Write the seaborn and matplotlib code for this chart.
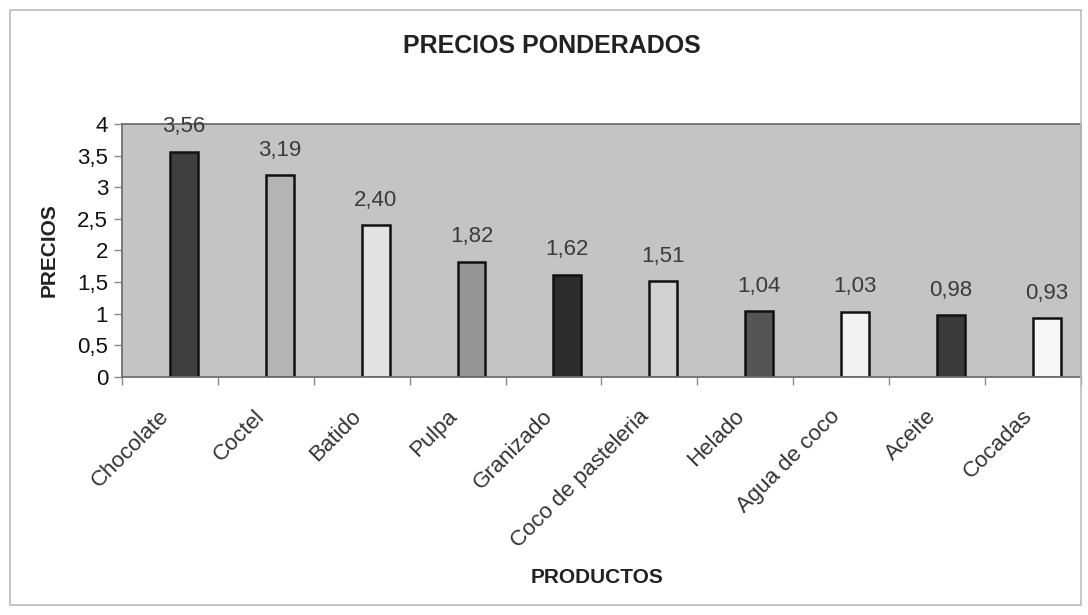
import matplotlib
matplotlib.use("Agg")
import matplotlib.pyplot as plt
from matplotlib.patches import Rectangle
import seaborn as sns
import pandas as pd
import numpy as np

productos = ["Chocolate", "Coctel", "Batido", "Pulpa", "Granizado",
             "Coco de pasteleria", "Helado", "Agua de coco", "Aceite", "Cocadas"]
precios = [3.56, 3.19, 2.40, 1.82, 1.62, 1.51, 1.04, 1.03, 0.98, 0.93]
colores = ["#3f3f3f", "#b4b4b4", "#e2e2e2", "#959595", "#2c2c2c",
           "#d2d2d2", "#555555", "#f2f2f2", "#3a3a3a", "#f6f6f6"]
yticks = [0, 0.5, 1, 1.5, 2, 2.5, 3, 3.5, 4]

BAR_W = 0.29          # bar width as a fraction of one category slot
SHIFT = BAR_W / 2     # bars sit just right of each category centre

sns.set_theme(style="white")
plt.rcParams["font.family"] = ["Liberation Sans", "DejaVu Sans"]

df = pd.DataFrame({"producto": productos, "precio": precios})
n = len(productos)
pos = np.arange(n)

fig = plt.figure(figsize=(10.88, 6.15), dpi=100)
ax = fig.add_axes([0.1121, 0.387, 0.8814, 0.4114])
ax.set_facecolor("#c4c4c4")

sns.barplot(data=df, x="producto", y="precio", hue="producto", palette=colores,
            legend=False, width=BAR_W, edgecolor="#111111", linewidth=1.8,
            saturation=1, ax=ax)

for i, v in enumerate(precios):
    ax.annotate(f"{v:.2f}".replace(".", ","), xy=(i, v), xytext=(0, 14),
                textcoords="offset points", ha="center", va="baseline",
                fontsize=16, color="#3a3a3a")

# category slots: the label sits at the slot centre, the bar just to its right
ax.set_xlim(-0.5 - SHIFT, n - 0.5 - SHIFT)
ax.set_ylim(0, 4)
ax.set_yticks(yticks)
ax.set_yticklabels([f"{t:g}".replace(".", ",") for t in yticks], fontsize=16,
                   color="#111111")
ax.set_xticks(pos - SHIFT)
ax.set_xticklabels(productos, rotation=45, ha="right", va="baseline",
                   rotation_mode="anchor", fontsize=16, color="#333333")
ax.set_xticks(np.arange(n + 1) - 0.5 - SHIFT, minor=True)
ax.tick_params(axis="x", which="major", length=0, pad=29)
ax.tick_params(axis="x", which="minor", bottom=True, length=6, width=1,
               color="#888888", direction="out")
ax.tick_params(axis="y", length=6, width=1, color="#888888", left=True,
               direction="out", pad=4)

for s in ax.spines.values():
    s.set_color("#707070")
    s.set_linewidth(1.3)

ax.set_xlabel("PRODUCTOS", fontsize=15, fontweight="bold", color="#222222", va="top")
ax.xaxis.set_label_coords(0.495, -0.755)
ax.set_ylabel("PRECIOS", fontsize=15, fontweight="bold", color="#222222")
ax.yaxis.set_label_coords(-0.066, 0.5)

fig.text(0.507, 0.925, "PRECIOS PONDERADOS", ha="center", va="center",
         fontsize=18, fontweight="bold", color="#222222")

fig.patches.append(Rectangle((0.009, 0.016), 0.985, 0.968, transform=fig.transFigure,
                             fill=False, edgecolor="#bbbbbb", linewidth=1.2))

fig.savefig("out.png", dpi=100)
